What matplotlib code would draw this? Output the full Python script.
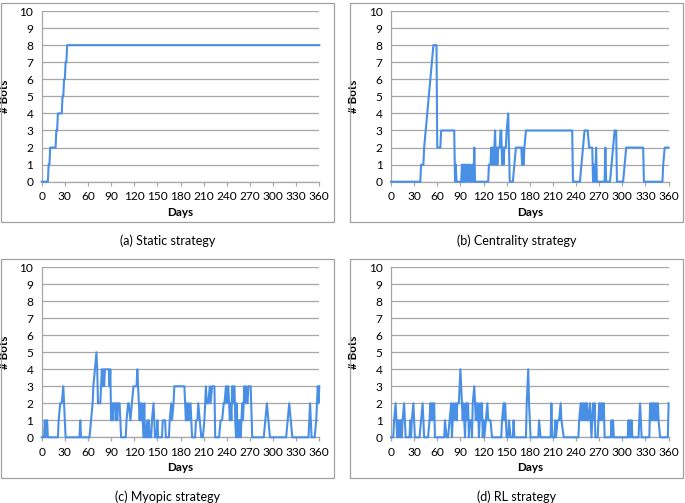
import matplotlib
matplotlib.use('Agg')
import matplotlib.pyplot as plt
from matplotlib.patches import Rectangle

plt.rcParams['font.family'] = ['Lato', 'DejaVu Sans']

# (a) static
days_a = [0, 8, 9, 10, 11, 18, 19, 20, 21, 26, 27, 28, 29, 30, 31, 32, 33, 360]
bots_a = [0, 0, 1, 1, 2, 2, 3, 3, 4, 4, 5, 5, 6, 6, 7, 7, 8, 8]

# (b) centrality
days_b = [0, 38, 39, 42, 43, 45, 47, 49, 51, 53, 55, 59, 60, 64, 65, 82, 83, 84, 85, 91,
          92, 93, 94, 95, 96, 97, 98, 99, 101, 102, 103, 104, 106, 107, 108, 109, 126, 127, 129, 130,
          131, 132, 133, 134, 135, 136, 137, 138, 139, 141, 142, 143, 144, 145, 146, 147, 149, 150, 152, 153,
          154, 158, 160, 162, 169, 170, 171, 172, 173, 175, 235, 236, 245, 247, 249, 251, 255, 257, 261, 262,
          263, 264, 265, 266, 267, 277, 278, 279, 284, 286, 288, 290, 292, 293, 301, 303, 305, 327, 328, 352,
          353, 355, 360]
bots_b = [0, 0, 1, 1, 2, 3, 4, 5, 6, 7, 8, 8, 2, 2, 3, 3, 0, 1, 0, 0,
          1, 0, 1, 0, 1, 0, 1, 0, 1, 0, 1, 0, 1, 0, 2, 0, 0, 1, 1, 2,
          1, 2, 1, 2, 3, 1, 2, 1, 2, 2, 3, 3, 1, 2, 1, 2, 2, 3, 4, 2,
          0, 0, 1, 2, 2, 1, 2, 1, 2, 3, 3, 0, 0, 1, 2, 3, 3, 2, 2, 0,
          1, 0, 0, 2, 0, 0, 2, 0, 0, 1, 2, 3, 3, 0, 0, 1, 2, 2, 0, 0,
          1, 2, 2]

# (c) myopic
days_c = [0, 3, 4, 5, 6, 7, 8, 21, 22, 24, 26, 28, 29, 31, 49, 50, 51, 62, 64, 66,
          67, 69, 71, 72, 73, 76, 77, 78, 79, 80, 81, 82, 87, 88, 89, 90, 91, 92, 93, 95,
          96, 97, 98, 99, 101, 103, 109, 110, 112, 113, 115, 117, 119, 123, 124, 125, 126, 127, 128, 129,
          130, 131, 132, 133, 134, 135, 137, 138, 139, 140, 142, 143, 145, 147, 149, 150, 151, 156, 157, 160,
          161, 165, 166, 168, 169, 171, 172, 185, 186, 187, 188, 189, 190, 191, 193, 195, 199, 200, 202, 203,
          205, 207, 209, 211, 213, 214, 216, 218, 219, 221, 224, 225, 230, 232, 234, 236, 237, 239, 240, 241,
          242, 244, 245, 246, 247, 248, 249, 250, 251, 252, 253, 254, 255, 256, 257, 258, 260, 261, 262, 263,
          264, 265, 267, 268, 271, 273, 288, 290, 292, 294, 296, 317, 319, 321, 323, 325, 346, 348, 350, 354,
          356, 357, 358, 359, 360]
bots_c = [0, 0, 1, 0, 1, 1, 0, 0, 1, 2, 2, 3, 2, 0, 0, 1, 0, 0, 1, 2,
          3, 4, 5, 4, 2, 2, 3, 4, 3, 4, 3, 4, 4, 3, 4, 1, 2, 1, 2, 2,
          1, 2, 1, 2, 2, 0, 0, 1, 2, 2, 1, 2, 3, 3, 4, 3, 2, 1, 2, 1,
          2, 1, 0, 2, 0, 0, 1, 0, 1, 0, 0, 1, 2, 0, 0, 1, 0, 0, 1, 1,
          0, 0, 1, 2, 1, 2, 3, 3, 2, 1, 2, 1, 2, 1, 2, 0, 0, 1, 1, 2,
          1, 0, 0, 1, 3, 2, 2, 3, 2, 3, 3, 0, 0, 1, 1, 2, 2, 3, 2, 3,
          3, 1, 2, 1, 3, 2, 3, 3, 1, 0, 2, 0, 1, 0, 1, 0, 2, 1, 2, 3,
          2, 3, 2, 3, 3, 0, 0, 1, 2, 1, 0, 0, 1, 2, 1, 0, 0, 2, 0, 0,
          1, 2, 3, 2, 3]

# (d) RL
days_d = [0, 3, 4, 6, 7, 8, 9, 10, 11, 12, 13, 14, 15, 17, 19, 24, 25, 26, 27, 29,
          31, 37, 39, 41, 43, 48, 50, 51, 52, 53, 54, 55, 56, 57, 69, 70, 72, 74, 76, 78,
          79, 80, 81, 82, 84, 85, 86, 88, 90, 92, 93, 94, 95, 96, 97, 98, 99, 100, 101, 102,
          104, 105, 106, 108, 109, 110, 111, 112, 113, 114, 116, 117, 118, 119, 120, 121, 123, 125, 126, 129,
          131, 143, 144, 146, 147, 148, 150, 152, 153, 155, 158, 159, 160, 175, 176, 178, 179, 181, 191, 192,
          194, 207, 208, 209, 212, 213, 214, 216, 218, 220, 221, 224, 243, 244, 246, 247, 248, 249, 250, 251,
          252, 253, 254, 255, 256, 258, 259, 260, 261, 262, 263, 264, 265, 268, 269, 270, 271, 272, 273, 274,
          275, 276, 277, 285, 286, 287, 288, 289, 307, 308, 309, 310, 311, 312, 313, 321, 322, 323, 324, 325,
          335, 336, 337, 338, 339, 340, 341, 342, 343, 344, 345, 346, 347, 349, 359, 360]
bots_d = [0, 0, 1, 2, 1, 0, 1, 0, 1, 0, 1, 0, 1, 2, 0, 0, 1, 0, 1, 2,
          0, 0, 1, 2, 0, 0, 1, 2, 1, 2, 1, 2, 2, 0, 0, 1, 0, 0, 1, 2,
          0, 1, 2, 1, 2, 1, 2, 2, 4, 2, 1, 2, 1, 0, 2, 1, 2, 2, 0, 1,
          1, 0, 2, 3, 2, 1, 2, 1, 2, 0, 2, 1, 2, 0, 1, 0, 1, 2, 1, 1,
          0, 0, 1, 2, 1, 2, 0, 0, 1, 0, 0, 1, 0, 0, 2, 4, 2, 0, 0, 1,
          0, 0, 2, 0, 0, 1, 0, 1, 1, 2, 1, 0, 0, 1, 2, 1, 2, 1, 2, 1,
          2, 1, 2, 1, 1, 2, 1, 0, 1, 2, 1, 2, 0, 0, 1, 2, 1, 2, 1, 2,
          1, 2, 0, 0, 1, 0, 1, 0, 0, 1, 0, 1, 0, 1, 0, 0, 1, 2, 1, 0,
          0, 2, 1, 2, 1, 2, 1, 2, 1, 2, 1, 2, 1, 0, 0, 2]

captions = ['(a) Static strategy', '(b) Centrality strategy',
            '(c) Myopic strategy', '(d) RL strategy']
xticks = list(range(0, 361, 30))
yticks = list(range(0, 11))

W, H = 685, 503
fig = plt.figure(figsize=(W / 100, H / 100), dpi=100)

line_col = '#4a8fe6'
grid_col = '#a6a6a6'

# pixel boxes: plot area, outer frame, caption y
layout = [
    ((41.7, 11, 319.3, 181.7), (1, 3, 333.5, 221.7), 241),
    ((391, 11, 668.6, 181.7), (350, 3, 683, 221.7), 241),
    ((41.7, 267.3, 319.3, 437.3), (1, 259, 333.5, 477.7), 497),
    ((391, 267.3, 668.6, 437.3), (350, 259, 683, 477.7), 497),
]
series = [(days_a, bots_a), (days_b, bots_b), (days_c, bots_c), (days_d, bots_d)]

for (x, y), cap, (pa, fr, cy) in zip(series, captions, layout):
    # frame around each chart
    fig.patches.append(Rectangle((fr[0] / W, 1 - fr[3] / H), (fr[2] - fr[0]) / W, (fr[3] - fr[1]) / H,
                                 transform=fig.transFigure, fill=False, ec='#a0a0a0', lw=0.9))
    ax = fig.add_axes([pa[0] / W, 1 - pa[3] / H, (pa[2] - pa[0]) / W, (pa[3] - pa[1]) / H])
    ax.plot(x, y, color=line_col, lw=1.5, clip_on=False, zorder=3)
    ax.set_xlim(0, 360)
    ax.set_ylim(0, 10)
    ax.set_xticks(xticks)
    ax.set_yticks(yticks)
    ax.grid(axis='y', color=grid_col, lw=0.9)
    ax.set_axisbelow(True)
    for s in ['top', 'right']:
        ax.spines[s].set_visible(False)
    for s in ['left', 'bottom']:
        ax.spines[s].set_color(grid_col)
        ax.spines[s].set_linewidth(0.9)
    ax.tick_params(axis='x', length=3, color=grid_col, width=0.9, pad=4, labelsize=8.6)
    ax.tick_params(axis='y', length=0, pad=6, labelsize=8.6)
    ax.set_xlabel('Days', fontsize=8.4, fontweight='bold', labelpad=3)
    ax.set_ylabel('# Bots', fontsize=8.4, fontweight='bold', labelpad=7)
    fig.text((fr[0] + fr[2]) / 2 / W, 1 - cy / H, cap, ha='center', va='center', fontsize=9)

fig.savefig('out.png', dpi=100)
